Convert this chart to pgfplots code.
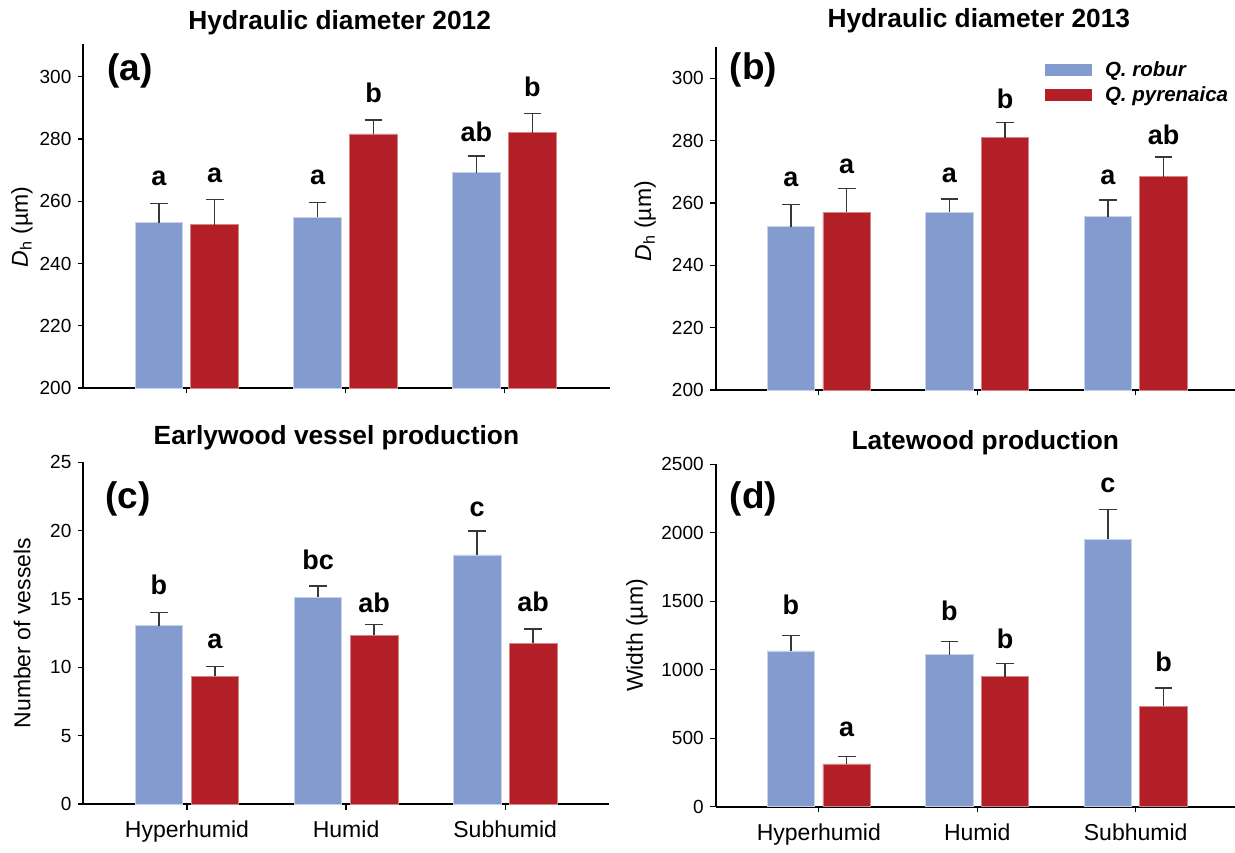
\documentclass[border=0pt]{standalone}
\usepackage{fontspec}
\setmainfont{Liberation Sans}
\usepackage{pgfplots}
\pgfplotsset{compat=1.18}
\usepackage{pgfplotstable}
\definecolor{qblue}{RGB}{131,155,206}
\definecolor{qred}{RGB}{178,31,38}
\definecolor{ebar}{RGB}{55,55,55}
\newcommand{\fs}[1]{\fontsize{#1}{#1}\selectfont}

% ---- data: x = bar centre (categories 0,1,2 : Hyperhumid, Humid, Subhumid; blue at -0.176, red at +0.176)
\pgfplotstableread{
x y e
-0.176 253.1 6.2
0.824 254.8 4.7
1.824 269.2 5.3
}\aBlue
\pgfplotstableread{
x y e
0.176 252.5 8.1
1.176 281.6 4.5
2.176 282.0 6.2
}\aRed
\pgfplotstableread{
x y l
-0.176 265.2 a
0.176 265.9 a
0.824 265.4 a
1.176 291.8 b
1.824 279.3 ab
2.176 293.6 b
}\aLet
\pgfplotstableread{
x y e
-0.176 252.4 7.0
0.824 257.0 4.3
1.824 255.6 5.3
}\bBlue
\pgfplotstableread{
x y e
0.176 257.0 7.7
1.176 280.9 4.9
2.176 268.4 6.3
}\bRed
\pgfplotstableread{
x y l
-0.176 265.2 a
0.176 269.5 a
0.824 266.5 a
1.176 290.4 b
1.824 265.8 a
2.176 278.6 ab
}\bLet
\pgfplotstableread{
x y e
-0.176 13.04 0.96
0.824 15.14 0.81
1.824 18.22 1.75
}\cBlue
\pgfplotstableread{
x y e
0.176 9.34 0.73
1.176 12.34 0.78
2.176 11.76 1.04
}\cRed
\pgfplotstableread{
x y l
-0.176 15.34 b
0.176 11.39 a
0.824 17.17 bc
1.176 14.0 ab
1.824 21.07 c
2.176 14.12 ab
}\cLet
\pgfplotstableread{
x y e
-0.176 1137 112
0.824 1110 98
1.824 1953 216
}\dBlue
\pgfplotstableread{
x y e
0.176 312 53
1.176 949 95
2.176 735 132
}\dRed
\pgfplotstableread{
x y l
-0.176 1400 b
0.176 511 a
0.824 1356 b
1.176 1157 b
1.824 2293 c
2.176 986 b
}\dLet

\pgfplotsset{
  panel/.style={
    scale only axis,
    anchor=south west,
    axis x line*=bottom, axis y line*=left,
    axis line style={line width=2pt, black},
    tick align=outside,
    major tick length=5.5pt,
    tick style={line width=1.3pt, black},
    xtick={0,1,2},
    /pgf/number format/assume math mode=true,
    /pgf/number format/1000 sep={},
    yticklabel style={font=\fs{19}, xshift=-3pt},
    xticklabel style={font=\fs{23}, yshift=-8pt},
    title style={font=\fs{26.3}\bfseries},
    ylabel style={font=\fs{23}, anchor=center},
    clip=false,
  },
  errs/.style={
    /pgfplots/error bars/y dir=plus,
    /pgfplots/error bars/y explicit,
    /pgfplots/error bars/error bar style={line width=1.5pt, ebar},
    /pgfplots/error bars/error mark options={rotate=90, mark size=8.8pt, line width=1.4pt, ebar}},
  bluebar/.style={ybar, bar width=0.30, bar shift=0pt, fill=qblue, draw=qblue!45!white, line width=0.9pt, errs},
  redbar/.style={ybar, bar width=0.30, bar shift=0pt, fill=qred, draw=qred!55!white, line width=0.9pt, errs},
  letters/.style={forget plot, only marks, mark=*, mark size=0pt, mark options={draw=none, fill=none},
    nodes near coords, point meta=explicit symbolic,
    every node near coord/.append style={anchor=base, inner sep=0pt, font=\fs{27}\bfseries, text=black}},
}

\begin{document}
\begin{tikzpicture}
\useasboundingbox (0pt,0pt) rectangle (1235pt,852pt);

% (a)
\begin{axis}[panel, at={(83.4pt,464pt)}, width=526.6pt, height=344pt,
  xmin=-0.651, xmax=2.665, ymin=200, ymax=310.5,
  ytick={200,220,240,260,280,300}, xticklabels={},
  title={Hydraulic diameter 2012}, title style={xshift=-7pt},
  ylabel={\textit{D}\textsubscript{h} (µm)},
  ylabel style={at={(axis description cs:-0.1166,0.468)}}]
\addplot[bluebar] table[x=x, y=y, y error=e] {\aBlue};
\addplot[redbar] table[x=x, y=y, y error=e] {\aRed};
\addplot[letters] table[x=x, y=y, meta=l] {\aLet};
\node[anchor=west, font=\fs{37}\bfseries, inner sep=0pt] at (rel axis cs:0.0448,0.9215) {(a)};
\end{axis}

% (b)
\begin{axis}[panel, at={(715.7pt,462pt)}, width=519.3pt, height=343.3pt,
  xmin=-0.651, xmax=2.627, ymin=200, ymax=310.1,
  ytick={200,220,240,260,280,300}, xticklabels={},
  title={Hydraulic diameter 2013}, title style={xshift=3.5pt, yshift=4pt},
  ylabel={\textit{D}\textsubscript{h} (µm)},
  ylabel style={at={(axis description cs:-0.136,0.492)}},
  legend style={at={(0.634,0.963)}, anchor=north west, draw=none, fill=none,
    font=\fs{20.5}\bfseries\itshape, row sep=5pt, inner sep=0pt,
    /tikz/every odd column/.append style={column sep=11pt}},
  legend cell align=left]
\addplot[legend image code/.code={\fill[qblue] (0pt,-5.5pt) rectangle (46pt,5.5pt);}, bluebar] table[x=x, y=y, y error=e] {\bBlue};
\addlegendentry{Q. robur}
\addplot[legend image code/.code={\fill[qred] (0pt,-5.5pt) rectangle (46pt,5.5pt);}, redbar] table[x=x, y=y, y error=e] {\bRed};
\addlegendentry{Q. pyrenaica}
\addplot[letters] table[x=x, y=y, meta=l] {\bLet};
\node[anchor=west, font=\fs{37}\bfseries, inner sep=0pt] at (rel axis cs:0.027,0.932) {(b)};
\end{axis}

% (c)
\begin{axis}[panel, at={(83.4pt,48pt)}, width=526pt, height=341.7pt,
  xmin=-0.651, xmax=2.655, ymin=0, ymax=25,
  ytick={0,5,10,15,20,25}, xticklabels={Hyperhumid,Humid,Subhumid},
  title={Earlywood vessel production}, title style={xshift=-10pt, yshift=3pt},
  ylabel={Number of vessels},
  ylabel style={at={(axis description cs:-0.1166,0.5)}}]
\addplot[bluebar] table[x=x, y=y, y error=e] {\cBlue};
\addplot[redbar] table[x=x, y=y, y error=e] {\cRed};
\addplot[letters] table[x=x, y=y, meta=l] {\cLet};
\node[anchor=west, font=\fs{37}\bfseries, inner sep=0pt] at (rel axis cs:0.041,0.8926) {(c)};
\end{axis}

% (d)
\begin{axis}[panel, at={(715.7pt,45.3pt)}, width=519.3pt, height=342.4pt,
  xmin=-0.651, xmax=2.627, ymin=0, ymax=2500,
  ytick={0,500,1000,1500,2000,2500}, xticklabels={Hyperhumid,Humid,Subhumid},
  title={Latewood production}, title style={xshift=10pt},
  ylabel={Width (µm)},
  ylabel style={at={(axis description cs:-0.1515,0.5)}}]
\addplot[bluebar] table[x=x, y=y, y error=e] {\dBlue};
\addplot[redbar] table[x=x, y=y, y error=e] {\dRed};
\addplot[letters] table[x=x, y=y, meta=l] {\dLet};
\node[anchor=west, font=\fs{37}\bfseries, inner sep=0pt] at (rel axis cs:0.027,0.8987) {(d)};
\end{axis}
\end{tikzpicture}
\end{document}
